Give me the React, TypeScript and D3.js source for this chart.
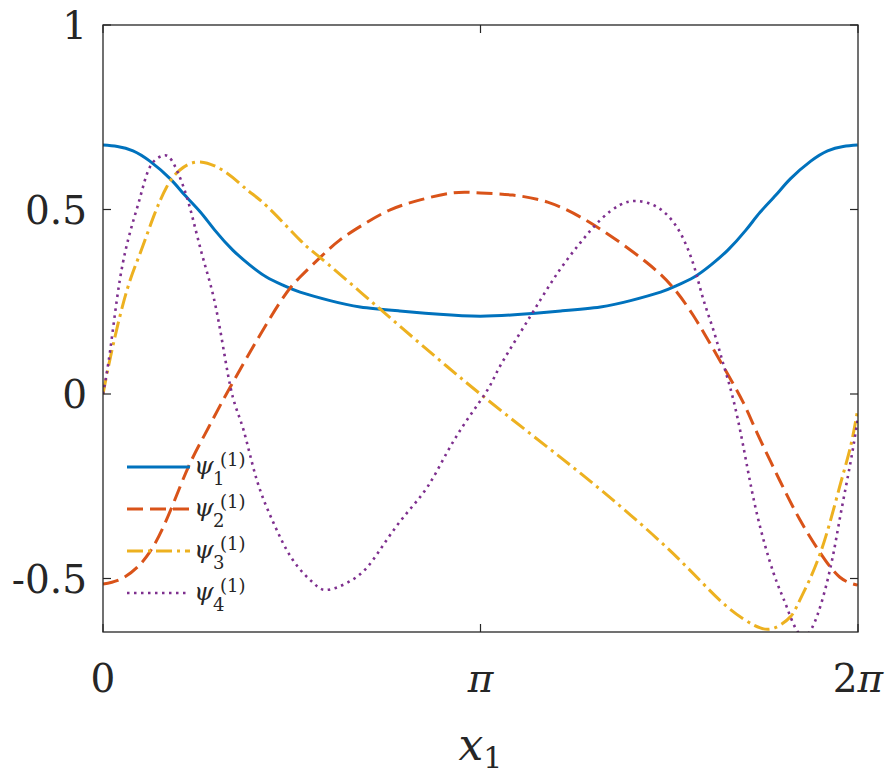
import React from 'react';
import * as d3 from 'd3';

// samples, x in radians
const psi1X = [0, 0.12, 0.25, 0.39, 0.56, 0.68, 0.81, 0.93, 1.08, 1.22, 1.36, 1.51, 1.64, 1.89, 2.14, 2.47, 2.8, 3.14, 3.48, 3.81, 4.14, 4.39, 4.64, 4.77, 4.92, 5.06, 5.2, 5.35, 5.47, 5.6, 5.72, 5.89, 6.03, 6.16, 6.28];
const psi1Y = [0.675, 0.671, 0.659, 0.631, 0.583, 0.539, 0.493, 0.444, 0.39, 0.35, 0.317, 0.293, 0.276, 0.253, 0.236, 0.225, 0.216, 0.211, 0.216, 0.225, 0.236, 0.253, 0.276, 0.293, 0.317, 0.35, 0.39, 0.444, 0.493, 0.539, 0.583, 0.631, 0.659, 0.671, 0.675];

const psi2X = [0, 0.18, 0.39, 0.57, 0.71, 0.85, 0.99, 1.2, 1.47, 1.64, 1.81, 1.97, 2.16, 2.39, 2.64, 2.91, 3.14, 3.41, 3.7, 3.97, 4.24, 4.53, 4.74, 4.91, 5.05, 5.19, 5.33, 5.44, 5.63, 5.8, 5.97, 6.13, 6.28];
const psi2Y = [-0.515, -0.496, -0.428, -0.309, -0.198, -0.108, -0.022, 0.1, 0.247, 0.317, 0.371, 0.417, 0.458, 0.499, 0.526, 0.545, 0.545, 0.539, 0.52, 0.48, 0.425, 0.355, 0.29, 0.214, 0.138, 0.059, -0.024, -0.103, -0.233, -0.341, -0.431, -0.496, -0.518];

const psi3X = [0, 0.08, 0.2, 0.31, 0.42, 0.53, 0.64, 0.81, 1.03, 1.2, 1.37, 1.64, 1.81, 2.14, 2.47, 2.8, 3.14, 3.55, 3.97, 4.39, 4.8, 5.13, 5.34, 5.47, 5.59, 5.72, 5.8, 5.97, 6.13, 6.22, 6.28];
const psi3Y = [0, 0.127, 0.282, 0.382, 0.48, 0.561, 0.607, 0.629, 0.599, 0.553, 0.507, 0.417, 0.369, 0.277, 0.184, 0.092, 0, -0.106, -0.214, -0.328, -0.45, -0.558, -0.612, -0.634, -0.634, -0.604, -0.558, -0.431, -0.252, -0.144, -0.043];

const psi4X = [0, 0.06, 0.14, 0.23, 0.31, 0.39, 0.49, 0.57, 0.67, 0.75, 0.83, 0.92, 1.0, 1.08, 1.17, 1.28, 1.42, 1.58, 1.75, 1.86, 2.03, 2.2, 2.36, 2.53, 2.7, 2.86, 3.03, 3.2, 3.3, 3.47, 3.64, 3.8, 3.97, 4.14, 4.3, 4.44, 4.61, 4.78, 4.91, 4.99, 5.08, 5.16, 5.24, 5.33, 5.44, 5.58, 5.69, 5.85, 6.03, 6.13, 6.22, 6.28];
const psi4Y = [0, 0.119, 0.309, 0.444, 0.534, 0.615, 0.645, 0.634, 0.561, 0.472, 0.371, 0.263, 0.127, -0.008, -0.098, -0.233, -0.35, -0.45, -0.512, -0.531, -0.512, -0.469, -0.396, -0.322, -0.252, -0.16, -0.07, 0.011, 0.073, 0.165, 0.255, 0.336, 0.409, 0.472, 0.512, 0.523, 0.507, 0.45, 0.355, 0.263, 0.173, 0.084, -0.008, -0.144, -0.322, -0.485, -0.577, -0.655, -0.504, -0.341, -0.187, -0.07];

const seriesNames = ['1', '2', '3', '4'];
const seriesColors = ['#0072BD', '#D95319', '#EDB120', '#7E2F8E'];
const seriesDash = ['none', '16,7', '16,5,3,5', '2.5,4.5'];

const xTicks = [0, Math.PI, 2 * Math.PI];
const xTickLabels = [['0', ''], ['', 'π'], ['2', 'π']];
const yTicks = [-0.5, 0, 0.5, 1];
const yTickLabels = ['-0.5', '0', '0.5', '1'];

const W = 890;
const H = 775;

export default function App() {
  const x = d3.scaleLinear().domain([0, 2 * Math.PI]).range([103, 858]);
  const y = d3.scaleLinear().domain([-0.645, 1]).range([632, 25]);

  const data = [
    psi1X.map((v, i) => [v, psi1Y[i]]),
    psi2X.map((v, i) => [v, psi2Y[i]]),
    psi3X.map((v, i) => [v, psi3Y[i]]),
    psi4X.map((v, i) => [v, psi4Y[i]]),
  ] as [number, number][][];

  const line = d3
    .line<[number, number]>()
    .x(d => x(d[0]))
    .y(d => y(d[1]))
    .curve(d3.curveNatural);

  const [x0, x1] = x.range();
  const [y0, y1] = y.range();
  const axisColor = '#262626';
  const font = "'DejaVu Serif', 'Liberation Serif', serif";

  return (
    <svg width={W} height={H} style={{ position: 'absolute', left: 0, top: 0, background: '#fff', fontFamily: font }}>
      <defs>
        <clipPath id="plot-area">
          <rect x={x0} y={y1} width={x1 - x0} height={y0 - y1} />
        </clipPath>
      </defs>

      <g clipPath="url(#plot-area)">
        {data.map((d, i) => (
          <path
            key={i}
            d={line(d) || ''}
            fill="none"
            stroke={seriesColors[i]}
            strokeWidth={i === 3 ? 2.6 : 3}
            strokeDasharray={seriesDash[i]}
          />
        ))}
      </g>

      {/* box and inward ticks */}
      <rect x={x0} y={y1} width={x1 - x0} height={y0 - y1} fill="none" stroke={axisColor} strokeWidth={1.3} />
      {yTicks.map(t => (
        <g key={'y' + t}>
          <line x1={x0} x2={x0 + 8} y1={y(t)} y2={y(t)} stroke={axisColor} strokeWidth={1.2} />
          <line x1={x1} x2={x1 - 8} y1={y(t)} y2={y(t)} stroke={axisColor} strokeWidth={1.2} />
        </g>
      ))}
      {xTicks.map((t, i) => (
        <g key={'x' + i}>
          <line x1={x(t)} x2={x(t)} y1={y0} y2={y0 - 8} stroke={axisColor} strokeWidth={1.2} />
          <line x1={x(t)} x2={x(t)} y1={y1} y2={y1 + 8} stroke={axisColor} strokeWidth={1.2} />
        </g>
      ))}

      {yTicks.map((t, i) => (
        <text key={'yl' + i} x={87} y={y(t)} dy="0.36em" textAnchor="end" fontSize={39} fill={axisColor} style={{ fontFamily: font }}>
          {yTickLabels[i]}
        </text>
      ))}
      {xTicks.map((t, i) => (
        <text key={'xl' + i} x={x(t)} y={692} textAnchor="middle" fontSize={39} fill={axisColor} style={{ fontFamily: font }}>
          {xTickLabels[i][0]}
          {xTickLabels[i][1] && <tspan fontStyle="italic">{xTickLabels[i][1]}</tspan>}
        </text>
      ))}

      <text x={(x0 + x1) / 2} y={760} textAnchor="middle" fill={axisColor} style={{ fontFamily: font }}>
        <tspan fontSize={44} fontStyle="italic">x</tspan>
        <tspan fontSize={30} dy={8}>1</tspan>
      </text>

      {/* legend, no box */}
      {seriesNames.map((n, i) => {
        const ry = 467 + i * 42;
        return (
          <g key={'lg' + n} style={{ fontFamily: font }}>
            <line
              x1={127}
              x2={190}
              y1={ry}
              y2={ry}
              stroke={seriesColors[i]}
              strokeWidth={i === 3 ? 2.6 : 3}
              strokeDasharray={seriesDash[i]}
            />
            <text x={194} y={ry + 7} fontSize={25} fontStyle="italic" fill={axisColor}>ψ</text>
            <text x={213} y={ry + 18} fontSize={18} fill={axisColor}>{n}</text>
            <text x={220} y={ry - 1} fontSize={18} fill={axisColor}>(1)</text>
          </g>
        );
      })}
    </svg>
  );
}
